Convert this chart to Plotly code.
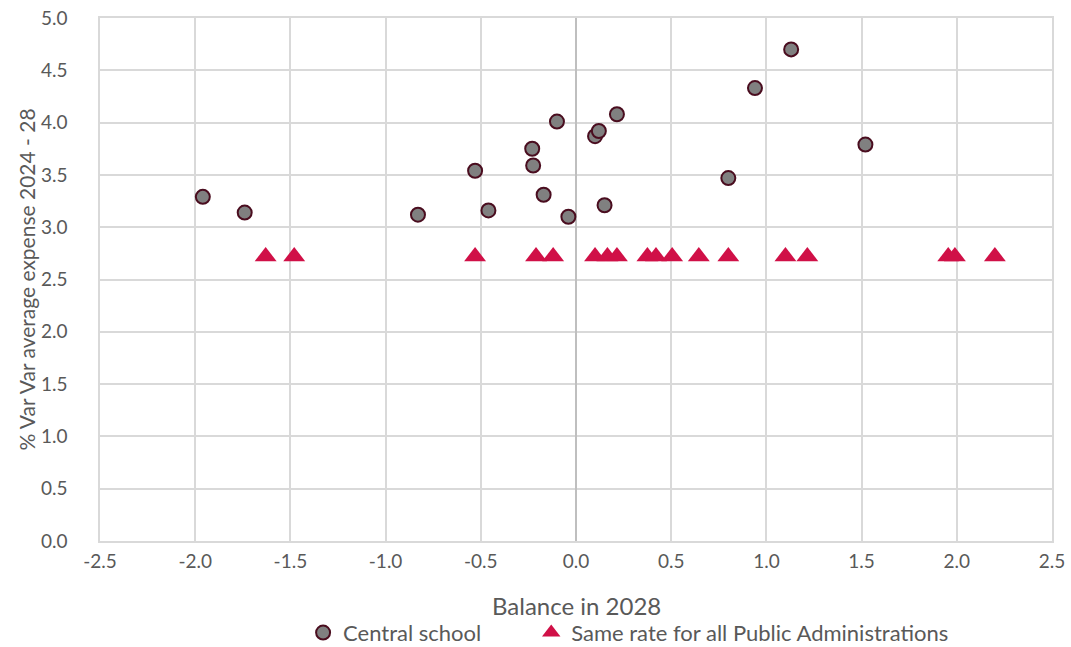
import plotly.graph_objects as go

# Central school: balance in 2028 vs average expense growth
central_balance = [-1.96, -1.74, -0.83, -0.53, -0.46, -0.23, -0.225, -0.17, -0.10, -0.04,
                   0.10, 0.12, 0.15, 0.215, 0.80, 0.94, 1.13, 1.52]
central_growth = [3.29, 3.14, 3.12, 3.54, 3.16, 3.75, 3.59, 3.31, 4.01, 3.10,
                  3.87, 3.92, 3.21, 4.08, 3.47, 4.33, 4.70, 3.79]

# Same rate for all Public Administrations
same_balance = [-1.63, -1.48, -0.53, -0.21, -0.12, 0.10, 0.165, 0.215, 0.375, 0.42,
                0.505, 0.645, 0.80, 1.10, 1.215, 1.955, 1.99, 2.20]
same_growth = [2.72] * len(same_balance)

x_ticks = [-2.5, -2.0, -1.5, -1.0, -0.5, 0.0, 0.5, 1.0, 1.5, 2.0, 2.5]
y_ticks = [0.0, 0.5, 1.0, 1.5, 2.0, 2.5, 3.0, 3.5, 4.0, 4.5, 5.0]

FONT = "Lato, 'Open Sans', sans-serif"
TEXT = "#595959"

fig = go.Figure()
fig.add_trace(go.Scatter(
    x=central_balance, y=central_growth, mode="markers", name="Central school",
    marker=dict(symbol="circle", size=14, color="#808080",
                line=dict(color="#4a0d1f", width=2)),
    legend="legend",
))
fig.add_trace(go.Scatter(
    x=same_balance, y=same_growth, mode="markers",
    name="Same rate for all Public Administrations",
    marker=dict(symbol="triangle-up", size=19, color="#d01047",
                line=dict(width=0)),
    legend="legend2",
))

legend_common = dict(orientation="h", xanchor="left", xref="container",
                     y=0.022, yanchor="middle", yref="container",
                     font=dict(size=22, color=TEXT), itemwidth=30,
                     bgcolor="rgba(0,0,0,0)")

fig.update_layout(
    width=1071, height=647,
    margin=dict(l=100, r=19, t=18, b=106, autoexpand=False),
    plot_bgcolor="white", paper_bgcolor="white",
    font=dict(family=FONT, size=18, color=TEXT),
    showlegend=True,
    legend=dict(x=0.283, **legend_common),
    legend2=dict(x=0.496, **legend_common),
    xaxis=dict(
        range=[-2.5, 2.5], tickvals=x_ticks, ticktext=[f"{v:.1f}" for v in x_ticks],
        showgrid=True, gridcolor="#d9d9d9", gridwidth=1.5,
        zeroline=True, zerolinecolor="#bfbfbf", zerolinewidth=2,
        showline=True, linecolor="#d9d9d9", linewidth=1.5, mirror=True,
        ticks="", tickfont=dict(size=19, color=TEXT), ticklabelstandoff=2,
    ),
    yaxis=dict(
        range=[0, 5.0], tickvals=y_ticks, ticktext=[f"{v:.1f}" for v in y_ticks],
        showgrid=True, gridcolor="#d9d9d9", gridwidth=1.5,
        zeroline=True, zerolinecolor="#d9d9d9", zerolinewidth=1.5,
        showline=True, linecolor="#d9d9d9", linewidth=1.5, mirror=True,
        ticks="", tickfont=dict(size=19, color=TEXT), ticklabelstandoff=27,
        title=dict(text="% Var Var average expense 2024 - 28",
                   font=dict(size=21, color=TEXT), standoff=0),
    ),
    annotations=[dict(
        text="Balance in 2028", xref="paper", x=0.5, xanchor="center",
        yref="paper", y=-0.124, yanchor="middle",
        showarrow=False, font=dict(size=24, color=TEXT),
    )],
)

fig.write_html("out.html")
